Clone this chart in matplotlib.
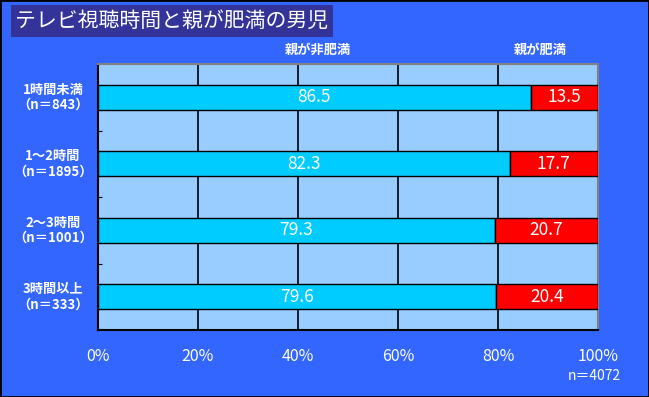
import matplotlib
matplotlib.use("Agg")
import matplotlib.pyplot as plt
from matplotlib.patches import Rectangle

plt.rcParams['font.family'] = ['Noto Sans CJK JP', 'DejaVu Sans']

categories = ["1時間未満\n（n＝843）", "1～2時間\n（n＝1895）", "2～3時間\n（n＝1001）", "3時間以上\n（n＝333）"]
not_obese = [86.5, 82.3, 79.3, 79.6]
obese = [13.5, 17.7, 20.7, 20.4]
series_names = ["親が非肥満", "親が肥満"]
xticks = [0, 20, 40, 60, 80, 100]

W, H = 649, 397
fig = plt.figure(figsize=(W / 100, H / 100), dpi=100)
fig.patch.set_facecolor("#3366FF")

# plot area in pixels
left, right, top, bottom = 98, 598, 64, 330
ax = fig.add_axes([left / W, 1 - bottom / H, (right - left) / W, (bottom - top) / H])
ax.set_facecolor("#99CCFF")

y = list(range(len(categories)))
bh = 0.38
ax.barh(y, not_obese, height=bh, color="#00CCFF", edgecolor="black", linewidth=1, zorder=3)
ax.barh(y, obese, left=not_obese, height=bh, color="#FF0000", edgecolor="black", linewidth=1, zorder=3)

for i in y:
    ax.text(not_obese[i] / 2, i, f"{not_obese[i]:.1f}", color="white", fontsize=12.5,
            ha="center", va="center", zorder=4)
    ax.text(not_obese[i] + obese[i] / 2, i, f"{obese[i]:.1f}", color="white", fontsize=12.5,
            ha="center", va="center", zorder=4)

ax.set_xlim(0, 100)
ax.set_ylim(len(categories) - 0.5, -0.5)
for xv in xticks[1:-1]:
    ax.axvline(xv, color="black", linewidth=1.2, zorder=1)

ax.set_xticks(xticks)
ax.set_xticklabels([f"{v}%" for v in xticks], color="white", fontsize=11.5)
ax.tick_params(axis="x", length=0, pad=13)
ax.set_yticks([i + 0.5 for i in y[:-1]])
ax.set_yticklabels([])
ax.tick_params(axis="y", length=3, direction="in", color="black")
for i, c in enumerate(categories):
    ax.text(-0.09, i, c, transform=ax.get_yaxis_transform(), color="white", fontsize=9.5,
            fontweight="bold", ha="center", va="center", linespacing=1.1)

ax.spines["top"].set_color("#808080")
ax.spines["right"].set_color("#808080")
ax.spines["left"].set_color("black")
ax.spines["bottom"].set_color("black")
for s in ax.spines.values():
    s.set_linewidth(1.5)

# legend-like labels above plot
fig.text(318 / W, 1 - 50 / H, series_names[0], color="white", fontsize=9.5, fontweight="bold",
         ha="center", va="center")
fig.text(540 / W, 1 - 50 / H, series_names[1], color="white", fontsize=9.5, fontweight="bold",
         ha="center", va="center")

# title box
fig.patches.append(Rectangle((11 / W, 1 - 37 / H), 322 / W, 32 / H, transform=fig.transFigure,
                             facecolor="#333399", edgecolor="none"))
fig.text(15 / W, 1 - 21 / H, "テレビ視聴時間と親が肥満の男児", color="white", fontsize=15,
         ha="left", va="center")

fig.text(621 / W, 1 - 376 / H, "n＝4072", color="white", fontsize=10, ha="right", va="center")

# outer border
fig.patches.append(Rectangle((0, 0), 1, 1, transform=fig.transFigure, facecolor="none",
                             edgecolor="black", linewidth=2))

fig.savefig("out.png", dpi=100, facecolor=fig.get_facecolor())
